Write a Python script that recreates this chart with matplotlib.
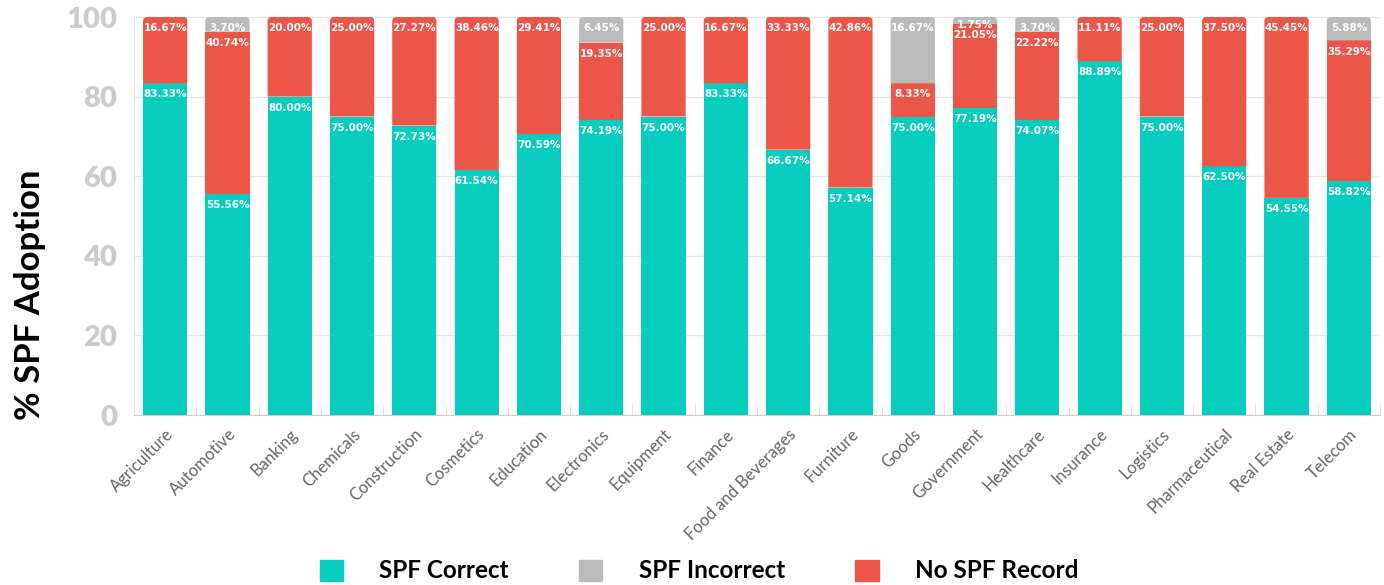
import matplotlib
matplotlib.use("Agg")
import matplotlib.pyplot as plt
import numpy as np
from matplotlib.patches import Patch, PathPatch
from matplotlib.path import Path

categories = ["Agriculture", "Automotive", "Banking", "Chemicals", "Construction",
              "Cosmetics", "Education", "Electronics", "Equipment", "Finance",
              "Food and Beverages", "Furniture", "Goods", "Government", "Healthcare",
              "Insurance", "Logistics", "Pharmaceutical", "Real Estate", "Telecom"]
spf_correct = [83.33, 55.56, 80.00, 75.00, 72.73, 61.54, 70.59, 74.19, 75.00, 83.33,
               66.67, 57.14, 75.00, 77.19, 74.07, 88.89, 75.00, 62.50, 54.55, 58.82]
no_spf = [16.67, 40.74, 20.00, 25.00, 27.27, 38.46, 29.41, 19.35, 25.00, 16.67,
          33.33, 42.86, 8.33, 21.05, 22.22, 11.11, 25.00, 37.50, 45.45, 35.29]
spf_incorrect = [0, 3.70, 0, 0, 0, 0, 0, 6.45, 0, 0,
                 0, 0, 16.67, 1.75, 3.70, 0, 0, 0, 0, 5.88]
yticks = [0, 20, 40, 60, 80, 100]

c_correct = "#06CDBD"
c_incorrect = "#BBBBBB"
c_none = "#EC5649"

plt.rcParams['font.family'] = ['Lato', 'DejaVu Sans']

fig = plt.figure(figsize=(13.84, 5.85), dpi=100)
ax = fig.add_axes([134/1384, 1-415/585, (1380-134)/1384, (415-17)/585])

x = np.arange(len(categories))
w = 0.71
correct = np.array(spf_correct)
none = np.array(no_spf)
inc = np.array(spf_incorrect)

b1 = ax.bar(x, correct, w, color=c_correct, zorder=3)
b2 = ax.bar(x, none, w, bottom=correct, color=c_none, zorder=3)
b3 = ax.bar(x, inc, w, bottom=correct + none, color=c_incorrect, zorder=3)

# round the top corners of each stacked bar
rx = 0.07
ry = 1.0
for i in range(len(categories)):
    if inc[i] > 0:
        rect, col = b3[i], c_incorrect
    else:
        rect, col = b2[i], c_none
    rect.set_visible(False)
    x0, y0 = rect.get_x(), rect.get_y()
    x1, y1 = x0 + rect.get_width(), y0 + rect.get_height()
    r_y = min(ry, rect.get_height())
    verts = [(x0, y0), (x0, y1 - r_y), (x0, y1), (x0 + rx, y1),
             (x1 - rx, y1), (x1, y1), (x1, y1 - r_y), (x1, y0), (x0, y0)]
    codes = [Path.MOVETO, Path.LINETO, Path.CURVE3, Path.CURVE3,
             Path.LINETO, Path.CURVE3, Path.CURVE3, Path.LINETO, Path.CLOSEPOLY]
    ax.add_patch(PathPatch(Path(verts, codes), fc=col, ec="none", zorder=3))

def lab(xi, top, val, dy=-8):
    ax.annotate(f"{val:.2f}%", (xi, top), xytext=(0, dy), textcoords="offset points",
                ha="center", va="center", color="white", fontsize=7.5,
                fontweight="bold", zorder=5, family=['DejaVu Sans'])

for i in range(len(categories)):
    lab(x[i], correct[i], correct[i])
    lab(x[i], correct[i] + none[i], none[i])
    if inc[i] > 0:
        lab(x[i], correct[i] + none[i] + inc[i], inc[i], dy=-6 if inc[i] < 3 else -8)

ax.set_xlim(-0.48, len(categories) - 0.52)
ax.set_ylim(0, 100)
ax.set_yticks(yticks)
ax.set_yticklabels([str(t) for t in yticks], fontsize=21, fontweight="heavy", color="#CCCCCC")
ax.tick_params(axis="y", length=0, pad=12)
ax.grid(axis="y", color="#E6E6E6", lw=1, zorder=0)

ax.set_xticks(x)
ax.set_xticklabels(categories, rotation=45, ha="right", rotation_mode="anchor",
                   fontsize=12, color="#666666")
ax.tick_params(axis="x", which="major", length=0, pad=8)
ax.set_xticks(np.arange(len(categories) + 1) - 0.5, minor=True)
ax.tick_params(axis="x", which="minor", length=8, direction="in", color="#DDDDDD")

for s in ["top", "right"]:
    ax.spines[s].set_visible(False)
ax.spines["left"].set_color("#E6E6E6")
ax.spines["bottom"].set_color("#CCCCCC")

fig.text(30/1384, 1-295/585, "% SPF Adoption", rotation=90, ha="center", va="center",
         fontsize=25, fontweight="bold", color="black")

handles = [Patch(color=c_correct, label="SPF Correct"),
           Patch(color=c_incorrect, label="SPF Incorrect"),
           Patch(color=c_none, label="No SPF Record")]
fig.legend(handles=handles, loc="center", bbox_to_anchor=(0.5 + 7/1384, 1-571/585), ncol=3,
           frameon=False, handlelength=0.95, handleheight=0.95,
           handletextpad=1.5, columnspacing=2.9, prop={'size': 17.5, 'weight': 'bold'})

fig.savefig("out.png", dpi=100)
